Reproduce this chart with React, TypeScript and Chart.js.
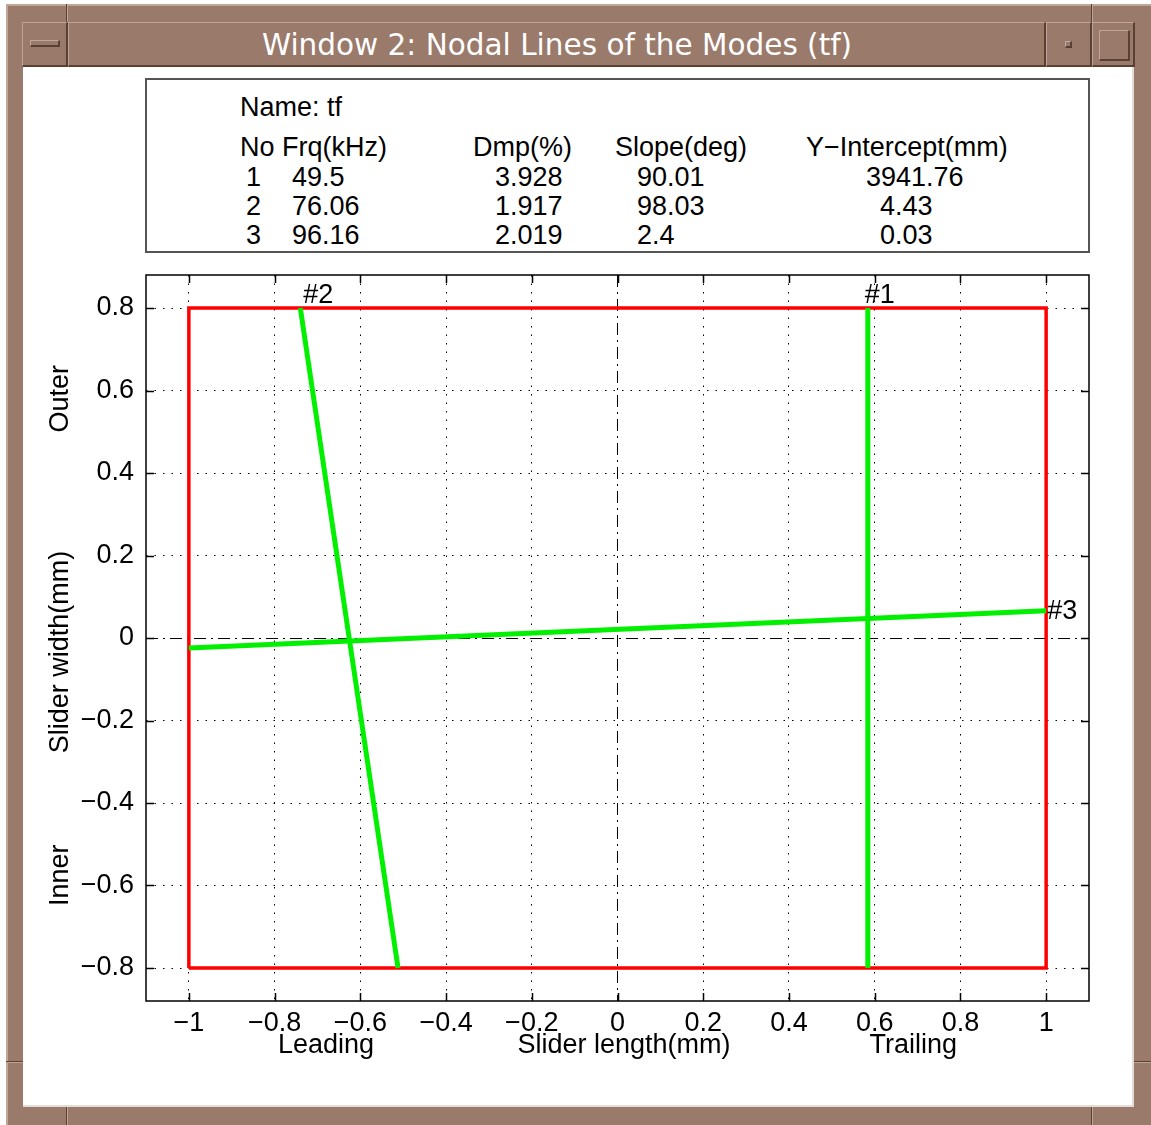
import React, { useEffect, useRef } from 'react';
import { Chart, registerables } from 'chart.js';

Chart.register(...registerables);

// ---------- data ----------
const WINDOW_TITLE = 'Window 2: Nodal Lines of the Modes (tf)';
const RUN_NAME = 'tf';
const MODE_NO = ['1', '2', '3'];
const FREQ_KHZ = ['49.5', '76.06', '96.16'];
const DAMPING_PCT = ['3.928', '1.917', '2.019'];
const SLOPE_DEG = ['90.01', '98.03', '2.4'];
const Y_INTERCEPT_MM = ['3941.76', '4.43', '0.03'];

const X_TICKS = [-1, -0.8, -0.6, -0.4, -0.2, 0, 0.2, 0.4, 0.6, 0.8, 1];
const Y_TICKS = [-0.8, -0.6, -0.4, -0.2, 0, 0.2, 0.4, 0.6, 0.8];

const SLIDER_X = [-1, -1, 1, 1, -1];
const SLIDER_Y = [-0.8, 0.8, 0.8, -0.8, -0.8];

const MODE1_X = [0.584, 0.584];
const MODE1_Y = [0.8, -0.8];
const MODE2_X = [-0.74, -0.512];
const MODE2_Y = [0.8, -0.8];
const MODE3_X = [-1, 1];
const MODE3_Y = [-0.024, 0.066];
const MODE_LABELS = ['#1', '#2', '#3'];

// ---------- style ----------
const FONT = "'Liberation Sans', Arial, Helvetica, sans-serif";
const BROWN = '#9a7a6b';
const LIGHT = '#bfa699';
const DARK = '#5a3f32';
const GREEN = '#00f000';
const RED = '#ff0000';

const fmt = (v: number) => {
  const r = Math.round(v * 10) / 10;
  if (Math.abs(r) < 1e-9) return '0';
  return r < 0 ? '\u2212' + String(Math.abs(r)) : String(r);
};

const pts = (xs: number[], ys: number[]) => xs.map((x, i) => ({ x, y: ys[i] }));

const decorPlugin = {
  id: 'decor',
  afterDraw(chart: any) {
    const { ctx, chartArea: a } = chart;
    const x = chart.scales.x;
    const y = chart.scales.y;
    ctx.save();
    // inward tick marks
    const TL = 8;
    ctx.strokeStyle = '#000';
    ctx.lineWidth = 1.5;
    ctx.setLineDash([]);
    ctx.beginPath();
    x.ticks.forEach((t: any) => {
      const px = Math.round(x.getPixelForValue(t.value)) + 0.5;
      ctx.moveTo(px, a.bottom);
      ctx.lineTo(px, a.bottom - TL);
      ctx.moveTo(px, a.top);
      ctx.lineTo(px, a.top + TL);
    });
    y.ticks.forEach((t: any) => {
      const py = Math.round(y.getPixelForValue(t.value)) + 0.5;
      ctx.moveTo(a.left, py);
      ctx.lineTo(a.left + TL, py);
      ctx.moveTo(a.right, py);
      ctx.lineTo(a.right - TL, py);
    });
    ctx.stroke();
    // axes box
    ctx.lineWidth = 1.5;
    ctx.strokeRect(a.left, a.top, a.right - a.left, a.bottom - a.top);

    // mode labels
    ctx.fillStyle = '#000';
    ctx.font = `27px ${FONT}`;
    ctx.textAlign = 'left';
    ctx.textBaseline = 'alphabetic';
    ctx.fillText(MODE_LABELS[0], x.getPixelForValue(MODE1_X[0]) - 3, y.getPixelForValue(MODE1_Y[0]) - 5);
    ctx.fillText(MODE_LABELS[1], x.getPixelForValue(MODE2_X[0]) + 3, y.getPixelForValue(MODE2_Y[0]) - 5);
    ctx.textBaseline = 'middle';
    ctx.fillText(MODE_LABELS[2], x.getPixelForValue(MODE3_X[1]) + 1, y.getPixelForValue(MODE3_Y[1]) + 1);

    // axis labels
    ctx.textAlign = 'center';
    ctx.textBaseline = 'middle';
    const lblY = a.bottom + 45;
    ctx.fillText('Leading', x.getPixelForValue(-0.68), lblY);
    ctx.fillText('Slider length(mm)', x.getPixelForValue(0.015), lblY);
    ctx.fillText('Trailing', x.getPixelForValue(0.69), lblY);

    const lblX = 61;
    const vtext = (s: string, yv: number) => {
      ctx.save();
      ctx.translate(lblX, y.getPixelForValue(yv));
      ctx.rotate(-Math.PI / 2);
      ctx.fillText(s, 0, 0);
      ctx.restore();
    };
    vtext('Outer', 0.58);
    vtext('Slider width(mm)', -0.034);
    vtext('Inner', -0.575);
    ctx.restore();
  },
};

const zeroDash = (c: any) =>
  c && c.tick && Math.abs(c.tick.value) < 1e-9 ? [12, 5, 2, 5] : [1.5, 7];

function Bevel(props: { left: number; top: number; width: number; height: number; sunken?: boolean; bg?: string }) {
  const { left, top, width, height, sunken, bg } = props;
  const lt = sunken ? DARK : LIGHT;
  const rb = sunken ? LIGHT : DARK;
  return (
    <div
      style={{
        position: 'absolute',
        left,
        top,
        width,
        height,
        boxSizing: 'border-box',
        borderTop: `1px solid ${lt}`,
        borderLeft: `1px solid ${lt}`,
        borderBottom: `2px solid ${rb}`,
        borderRight: `2px solid ${rb}`,
        background: bg || 'transparent',
      }}
    />
  );
}

function Txt(props: { left: number; base: number; children: React.ReactNode }) {
  return (
    <span
      style={{
        position: 'absolute',
        left: props.left,
        top: props.base - 23,
        fontFamily: FONT,
        fontSize: 27,
        lineHeight: '27px',
        whiteSpace: 'pre',
        color: '#000',
      }}
    >
      {props.children}
    </span>
  );
}

export default function App() {
  const canvasRef = useRef<HTMLCanvasElement | null>(null);

  useEffect(() => {
    const canvas = canvasRef.current;
    if (!canvas) return;
    const chart = new Chart(canvas, {
      type: 'scatter',
      data: {
        datasets: [
          { label: 'Mode 1', data: pts(MODE1_X, MODE1_Y), showLine: true, borderColor: GREEN, borderWidth: 5, pointRadius: 0, fill: false },
          { label: 'Mode 2', data: pts(MODE2_X, MODE2_Y), showLine: true, borderColor: GREEN, borderWidth: 5, pointRadius: 0, fill: false },
          { label: 'Mode 3', data: pts(MODE3_X, MODE3_Y), showLine: true, borderColor: GREEN, borderWidth: 5, pointRadius: 0, fill: false },
          { label: 'Slider', data: pts(SLIDER_X, SLIDER_Y), showLine: true, borderColor: RED, borderWidth: 3.5, pointRadius: 0, fill: false, borderJoinStyle: 'miter' },
        ],
      },
      options: {
        animation: false,
        responsive: false,
        devicePixelRatio: 1,
        layout: { padding: { left: 46, top: 275, right: 62, bottom: 64 } },
        plugins: { legend: { display: false }, tooltip: { enabled: false }, title: { display: false } },
        scales: {
          x: {
            type: 'linear',
            position: 'bottom',
            min: -1.1,
            max: 1.1,
            afterBuildTicks: (s: any) => {
              s.ticks = X_TICKS.map((v) => ({ value: v }));
            },
            afterFit: (s: any) => {
              s.height = 60;
            },
            ticks: {
              autoSkip: false,
              maxRotation: 0,
              padding: 6,
              color: '#000',
              font: { family: FONT, size: 27 },
              callback: (v: any) => fmt(Number(v)),
            },
            grid: { color: '#000', lineWidth: 1, drawTicks: false },
            border: { display: false, dash: zeroDash },
          },
          y: {
            type: 'linear',
            position: 'left',
            min: -0.88,
            max: 0.88,
            afterBuildTicks: (s: any) => {
              s.ticks = Y_TICKS.map((v) => ({ value: v }));
            },
            afterFit: (s: any) => {
              s.width = 100;
            },
            ticks: {
              autoSkip: false,
              padding: 12,
              color: '#000',
              font: { family: FONT, size: 27 },
              callback: (v: any) => fmt(Number(v)),
            },
            grid: { color: '#000', lineWidth: 1, drawTicks: false },
            border: { display: false, dash: zeroDash },
          },
        },
      } as any,
      plugins: [decorPlugin],
    });
    return () => chart.destroy();
  }, []);

  const cols = [
    { left: 246, vals: MODE_NO },
    { left: 292, vals: FREQ_KHZ },
    { left: 495, vals: DAMPING_PCT },
    { left: 637, vals: SLOPE_DEG },
  ];
  const rowBase = [187, 216, 245];

  return (
    <div style={{ position: 'fixed', left: 0, top: 0, width: 1151, height: 1125, background: '#fff', overflow: 'hidden' }}>
      {/* window frame */}
      <div
        style={{
          position: 'absolute',
          left: 6,
          top: 4,
          width: 1145,
          height: 1121,
          boxSizing: 'border-box',
          background: BROWN,
          borderTop: `2px solid ${LIGHT}`,
          borderLeft: `2px solid ${LIGHT}`,
        }}
      />
      {/* frame notches */}
      <div style={{ position: 'absolute', left: 66, top: 4, width: 1, height: 18, background: DARK }} />
      <div style={{ position: 'absolute', left: 67, top: 4, width: 1, height: 18, background: LIGHT }} />
      <div style={{ position: 'absolute', left: 1091, top: 4, width: 1, height: 18, background: DARK }} />
      <div style={{ position: 'absolute', left: 1092, top: 4, width: 1, height: 18, background: LIGHT }} />
      <div style={{ position: 'absolute', left: 66, top: 1107, width: 1, height: 18, background: DARK }} />
      <div style={{ position: 'absolute', left: 67, top: 1107, width: 1, height: 18, background: LIGHT }} />
      <div style={{ position: 'absolute', left: 1091, top: 1107, width: 1, height: 18, background: DARK }} />
      <div style={{ position: 'absolute', left: 1092, top: 1107, width: 1, height: 18, background: LIGHT }} />
      <div style={{ position: 'absolute', left: 6, top: 1061, width: 17, height: 1, background: DARK }} />
      <div style={{ position: 'absolute', left: 6, top: 1062, width: 17, height: 1, background: LIGHT }} />
      <div style={{ position: 'absolute', left: 1134, top: 1061, width: 17, height: 1, background: DARK }} />
      <div style={{ position: 'absolute', left: 1134, top: 1062, width: 17, height: 1, background: LIGHT }} />

      {/* title bar */}
      <Bevel left={22} top={22} width={46} height={45} />
      <Bevel left={30} top={40} width={30} height={7} />
      <Bevel left={68} top={22} width={978} height={45} />
      <Bevel left={1046} top={22} width={46} height={45} />
      <Bevel left={1065} top={41} width={7} height={7} />
      <Bevel left={1092} top={22} width={43} height={45} />
      <Bevel left={1099} top={30} width={31} height={31} />
      <div
        style={{
          position: 'absolute',
          left: 68,
          top: 23,
          width: 978,
          height: 45,
          fontFamily: "'DejaVu Sans', Verdana, sans-serif",
          fontSize: 29.5,
          lineHeight: '45px',
          textAlign: 'center',
          color: '#fff',
          whiteSpace: 'pre',
        }}
      >
        {WINDOW_TITLE}
      </div>

      {/* client area */}
      <div
        style={{
          position: 'absolute',
          left: 23,
          top: 67,
          width: 1111,
          height: 1040,
          background: '#fff',
          boxSizing: 'border-box',
          borderRight: '2px solid #e4dcd8',
          borderBottom: '2px solid #e4dcd8',
        }}
      />

      {/* info table */}
      <div
        style={{
          position: 'absolute',
          left: 145,
          top: 78,
          width: 945,
          height: 175,
          boxSizing: 'border-box',
          border: '2px solid #555',
        }}
      />
      <Txt left={240} base={117}>{`Name: ${RUN_NAME}`}</Txt>
      <Txt left={240} base={157}>No Frq(kHz)</Txt>
      <Txt left={473} base={157}>Dmp(%)</Txt>
      <Txt left={615} base={157}>Slope(deg)</Txt>
      <Txt left={806} base={157}>{'Y\u2212Intercept(mm)'}</Txt>
      {cols.map((c, ci) =>
        c.vals.map((v, ri) => (
          <Txt key={`${ci}-${ri}`} left={c.left} base={rowBase[ri]}>
            {v}
          </Txt>
        ))
      )}
      {Y_INTERCEPT_MM.map((v, ri) => (
        <Txt key={`yi-${ri}`} left={ri === 0 ? 866 : 880} base={rowBase[ri]}>
          {v}
        </Txt>
      ))}

      <canvas
        ref={canvasRef}
        width={1151}
        height={1125}
        style={{ position: 'absolute', left: 0, top: 0, width: 1151, height: 1125 }}
      />
    </div>
  );
}
